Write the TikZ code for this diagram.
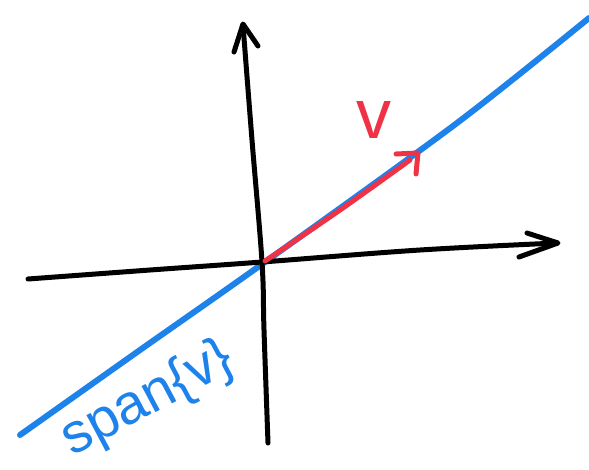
\documentclass[tikz,border=0pt]{standalone}
\usepackage{fontspec}
\setmainfont{Liberation Sans}
\definecolor{penblue}{RGB}{30,130,235}
\definecolor{penred}{RGB}{240,50,70}
\begin{document}
\begin{tikzpicture}[x=1pt,y=-1pt,
  pen/.style={line width=5pt,line cap=round,line join=round},
  lbl/.style={inner sep=0pt,font=\fontsize{56}{56}\selectfont}]
\useasboundingbox (0,0) rectangle (589,469);
% blue span line
\draw[pen,penblue,line width=6pt] plot[smooth,tension=0.5] coordinates {(20,435) (140,350) (265,262) (457,123) (589,18)};
% vertical axis
\draw[pen,black] plot[smooth,tension=0.6] coordinates {(268,443) (264,330) (262,262) (252,140) (243,25)};
\draw[pen,black] (234,52) -- (243,24) -- (258,46);
% horizontal axis
\draw[pen,black] plot[smooth,tension=0.6] coordinates {(28,279) (150,270) (262,262) (420,250) (557,243)};
\draw[pen,black] (527,233) -- (558,243) -- (519,257);
% red vector
\draw[pen,penred] plot[smooth,tension=0.6] coordinates {(265,261) (340,210) (410,160)};
\draw[pen,penred] (396,154) -- (418,153) -- (416,174);
% labels
\node[lbl,text=penred,font=\fontsize{70}{70}\selectfont] (v) at (374,120) {v};
\node[lbl,text=penblue,rotate=28] (span) at (148,400) {span\{v\}};
\end{tikzpicture}
\end{document}
